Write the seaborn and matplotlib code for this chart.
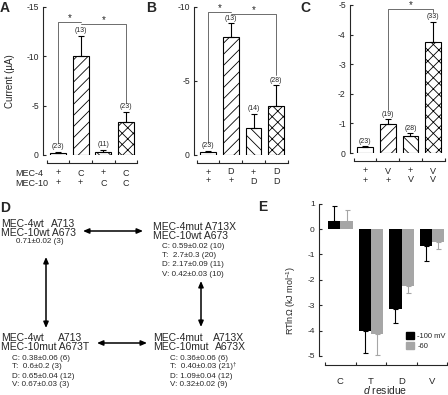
import matplotlib
matplotlib.use("Agg")

import matplotlib.pyplot as plt
import matplotlib.transforms as mtransforms
from matplotlib.patches import Patch
import pandas as pd
import seaborn as sns

W, H = 448, 395

# Panel A (MEC-4 / MEC-10 C substitutions)
a_mec4 = ["+", "C", "+", "C"]
a_mec10 = ["+", "+", "C", "C"]
a_current = [-0.2, -10.0, -0.3, -3.3]
a_err = [0.1, 2.1, 0.2, 1.1]
a_n = [23, 13, 11, 23]

# Panel B (D substitutions)
b_mec4 = ["+", "D", "+", "D"]
b_mec10 = ["+", "+", "D", "D"]
b_current = [-0.2, -8.0, -1.8, -3.3]
b_err = [0.1, 0.9, 1.0, 1.4]
b_n = [23, 13, 14, 28]

# Panel C (V substitutions)
c_mec4 = ["+", "V", "+", "V"]
c_mec10 = ["+", "+", "V", "V"]
c_current = [-0.2, -0.97, -0.57, -3.76]
c_err = [0.03, 0.17, 0.1, 0.67]
c_n = [23, 19, 28, 33]

# significance brackets: (bar i, bar j, height, left end, right end)
a_brackets = [(0, 1, -13.5, -1.2, -13.5), (1, 3, -13.3, -13.3, -5.3)]
b_brackets = [(0, 1, -9.66, -0.8, -9.66), (1, 3, -9.53, -9.53, -5.4)]
c_brackets = [(1, 3, -4.87, -1.44, -4.75)]

# Panel E (coupling energies)
e_residue = ["C", "T", "D", "V"]
e_voltages = ["-100 mV", "-60"]
e_100 = [0.3, -4.0, -3.15, -0.65]
e_100_err = [0.6, 0.9, 0.55, 0.6]
e_60 = [0.3, -4.15, -2.25, -0.5]
e_60_err = [0.45, 0.8, 0.25, 0.3]

hatches = ["", "///", "\\\\\\", "xxx"]

sns.set_style("ticks")
plt.rcParams["font.family"] = ["Liberation Sans", "DejaVu Sans"]
plt.rcParams["axes.unicode_minus"] = False
plt.rcParams["hatch.linewidth"] = 0.6
plt.rcParams["mathtext.fontset"] = "custom"
plt.rcParams["mathtext.rm"] = "Liberation Sans"
plt.rcParams["mathtext.it"] = "Liberation Sans:italic"

fig = plt.figure(figsize=(W / 100, H / 100), dpi=100)


def px_axes(left, top, right, bottom):
    return fig.add_axes([
        left / W,
        1 - bottom / H,
        (right - left) / W,
        (bottom - top) / H
    ])


def current_panel(ax, mec4, mec10, current, err, n, brackets,
                  ymin, yticks, xlim, rows_y):
    df = pd.DataFrame({
        "cond": [f"{a}/{b}" for a, b in zip(mec4, mec10)],
        "current": current
    })
    sns.barplot(
        data=df, x="cond", y="current", ax=ax,
        width=0.7, color="white", saturation=1,
        edgecolor="black", linewidth=0.8, errorbar=None
    )
    for p, h in zip(ax.patches, hatches):
        p.set_hatch(h)
        p.set_facecolor("white")
    xs = list(range(len(current)))
    ax.errorbar(
        xs, current, yerr=[err, [0] * len(err)],
        fmt="none", ecolor="black", elinewidth=0.8,
        capsize=2, capthick=0.8
    )
    for x, v, e, k in zip(xs, current, err, n):
        ax.annotate(
            f"({k})", (x, v - e), xytext=(0, 1.2),
            textcoords="offset points", ha="center", va="bottom",
            fontsize=5
        )
    for i, j, yb, yl, yr in brackets:
        ax.plot([i, i, j, j], [yl, yb, yb, yr], color="#555555", lw=0.6)
        ax.annotate(
            "*", ((i + j) / 2, yb), xytext=(0, -0.8),
            textcoords="offset points", ha="center", va="bottom",
            fontsize=7
        )

    ax.set_ylim(0, ymin)
    ax.set_xlim(*xlim)
    ax.set_yticks(yticks)
    ax.set_yticklabels([str(t) for t in yticks])
    ax.set_xticks([-0.5, 0.5, 1.5, 2.5, 3.5])
    ax.set_xticklabels([])
    ax.set_xlabel("")
    ax.set_ylabel("")
    ax.tick_params(axis="y", direction="in", length=2.2, width=0.8,
                   labelsize=6.2, pad=3)
    ax.tick_params(axis="x", direction="in", length=2.2, width=0.8)
    sns.despine(ax=ax)
    ax.spines["left"].set_bounds(ymin, 0)
    ax.spines["bottom"].set_bounds(-0.5, 3.5)
    ax.spines["bottom"].set_position(("outward", 5.8))
    for s in ["left", "bottom"]:
        ax.spines[s].set_linewidth(0.8)

    tr = mtransforms.blended_transform_factory(ax.transData, fig.transFigure)
    for x, t1, t2 in zip(xs, mec4, mec10):
        ax.text(x, 1 - rows_y[0] / H, t1, transform=tr, ha="center",
                va="center", fontsize=6.5)
        ax.text(x, 1 - rows_y[1] / H, t2, transform=tr, ha="center",
                va="center", fontsize=6.5)


ax_a = px_axes(43, 7, 140, 155)
current_panel(ax_a, a_mec4, a_mec10, a_current, a_err, a_n, a_brackets,
              -15, [0, -5, -10, -15], (-0.66, 3.62), (173, 183))
ax_a.set_ylabel("Current (µA)", fontsize=7, labelpad=8)

ax_b = px_axes(194, 7, 290, 155)
current_panel(ax_b, b_mec4, b_mec10, b_current, b_err, b_n, b_brackets,
              -10, [0, -5, -10], (-0.61, 3.6), (172, 181))

ax_c = px_axes(350, 5, 448, 153)
current_panel(ax_c, c_mec4, c_mec10, c_current, c_err, c_n, c_brackets,
              -5, [0, -1, -2, -3, -4, -5], (-0.66, 3.65), (171, 180))

# Panel E
e_df = pd.DataFrame({
    "residue": e_residue * 2,
    "voltage": [e_voltages[0]] * 4 + [e_voltages[1]] * 4,
    "value": e_100 + e_60,
    "err": e_100_err + e_60_err,
})
e_colors = {"-100 mV": "black", "-60": "#a6a6a6"}
ax_e = px_axes(319, 203.6, 448, 356)
sns.barplot(
    data=e_df, x="residue", y="value", hue="voltage", ax=ax_e,
    palette=e_colors, saturation=1, width=0.8, errorbar=None,
    legend=False, linewidth=0
)
centers = [p.get_x() + p.get_width() / 2 for p in ax_e.patches][:8]
for k, (v, e) in enumerate(zip(e_df["value"], e_df["err"])):
    col = e_colors[e_df["voltage"][k]]
    lo = e if v < 0 else 0
    hi = e if v > 0 else 0
    ax_e.errorbar(centers[k], v, yerr=[[lo], [hi]], fmt="none",
                  ecolor=col, elinewidth=0.8, capsize=1.8, capthick=0.8)
ax_e.set_ylim(-5, 1)
ax_e.set_xlim(-0.7, 3.52)
ax_e.set_yticks([1, 0, -1, -2, -3, -4, -5])
ax_e.set_yticklabels(["1", "0", "-1", "-2", "-3", "-4", "-5"])
ax_e.set_xticks([-0.5, 0.5, 1.5, 2.5, 3.5])
ax_e.set_xticklabels([])
ax_e.set_xlabel("")
ax_e.set_ylabel("")
ax_e.tick_params(axis="y", direction="in", length=2.2, width=0.8,
                 labelsize=6, pad=3)
ax_e.tick_params(axis="x", direction="in", length=2.2, width=0.8)
sns.despine(ax=ax_e)
ax_e.spines["left"].set_bounds(-5, 1)
ax_e.spines["bottom"].set_bounds(-0.5, 3.5)
ax_e.spines["bottom"].set_position(("outward", 6.5))
for s in ["left", "bottom"]:
    ax_e.spines[s].set_linewidth(0.8)
tr_e = mtransforms.blended_transform_factory(ax_e.transData, fig.transFigure)
for x, r in enumerate(e_residue):
    ax_e.text(x, 1 - 381 / H, r, transform=tr_e, ha="center",
              va="center", fontsize=6.8)
ax_e.legend(
    handles=[Patch(color=e_colors[v]) for v in e_voltages],
    labels=e_voltages, loc="upper left",
    bbox_to_anchor=(406 / W, 1 - 332 / H), bbox_transform=fig.transFigure,
    frameon=False, fontsize=5.5, handlelength=1.0, handleheight=1.0,
    handletextpad=0.5, labelspacing=0.25, borderpad=0, borderaxespad=0
)

# overlay for letters, panel D and free labels
ov = fig.add_axes([0, 0, 1, 1], zorder=-1)
ov.set_xlim(0, W)
ov.set_ylim(H, 0)
ov.axis("off")

for letter, x, y in [("A", 0, 1), ("B", 146, 1), ("C", 300, 1),
                     ("D", 0, 201), ("E", 258, 200)]:
    ov.text(x, y, letter, fontsize=10, fontweight="bold",
            ha="left", va="top")

ov.text(15, 173, "MEC-4", fontsize=6.5, va="center")
ov.text(15, 183, "MEC-10", fontsize=6.5, va="center")

ov.text(385, 390, "$d$ residue", fontsize=7.5, ha="center", va="center")
ov.text(291, 300, "RTlnΩ (kJ mol$^{-1}$)", fontsize=6.5, rotation=90,
        ha="center", va="center")

# Panel D
fs_big = 7.5
fs_val = 5.8
ov.text(1, 224, "MEC-4wt", fontsize=fs_big, va="center")
ov.text(51, 224, "A713", fontsize=fs_big, va="center")
ov.text(1, 233, "MEC-10wt A673", fontsize=fs_big, va="center")
ov.text(16, 241.5, "0.71±0.02 (3)", fontsize=fs_val, va="center")

ov.text(153, 227, "MEC-4mut A713X", fontsize=fs_big, va="center")
ov.text(153, 236, "MEC-10wt A673", fontsize=fs_big, va="center")
for y, s in zip([246, 255.5, 265, 274.5],
                ["C: 0.59±0.02 (10)", "T:  2.7±0.3 (20)",
                 "D: 2.17±0.09 (11)", "V: 0.42±0.03 (10)"]):
    ov.text(162, y, s, fontsize=fs_val, va="center")

ov.text(1, 338, "MEC-4wt", fontsize=fs_big, va="center")
ov.text(58, 338, "A713", fontsize=fs_big, va="center")
ov.text(1, 347, "MEC-10mut A673T", fontsize=fs_big, va="center")
for y, s in zip([358, 367, 376, 385],
                ["C: 0.38±0.06 (6)", "T:  0.6±0.2 (3)",
                 "D: 0.65±0.04 (12)", "V: 0.67±0.03 (3)"]):
    ov.text(12, y, s, fontsize=fs_val, va="center")

ov.text(153, 338, "MEC-4mut", fontsize=fs_big, va="center")
ov.text(213, 338, "A713X", fontsize=fs_big, va="center")
ov.text(153, 347, "MEC-10mut", fontsize=fs_big, va="center")
ov.text(215, 347, "A673X", fontsize=fs_big, va="center")
for y, s in zip([358, 367, 376, 385],
                ["C: 0.36±0.06 (6)", "T:  0.40±0.03 (21)",
                 "D: 1.09±0.04 (12)", "V: 0.32±0.02 (9)"]):
    t = ov.text(170, y, s, fontsize=fs_val, va="center")
    if s.startswith("T"):
        ov.annotate("†", xy=(1, 0.9), xycoords=t, fontsize=4.5,
                    ha="left", va="center")

arrow = dict(arrowstyle="<|-|>,head_length=0.35,head_width=0.15",
             color="black", lw=1.1, shrinkA=0, shrinkB=0)
for (x0, y0), (x1, y1) in [((83, 231), (143, 231)),
                           ((46, 257), (46, 328)),
                           ((201, 281), (201, 327)),
                           ((97, 343), (147, 343))]:
    ov.annotate("", xy=(x1, y1), xytext=(x0, y0), arrowprops=arrow)

fig.savefig("out.png", dpi=100)
